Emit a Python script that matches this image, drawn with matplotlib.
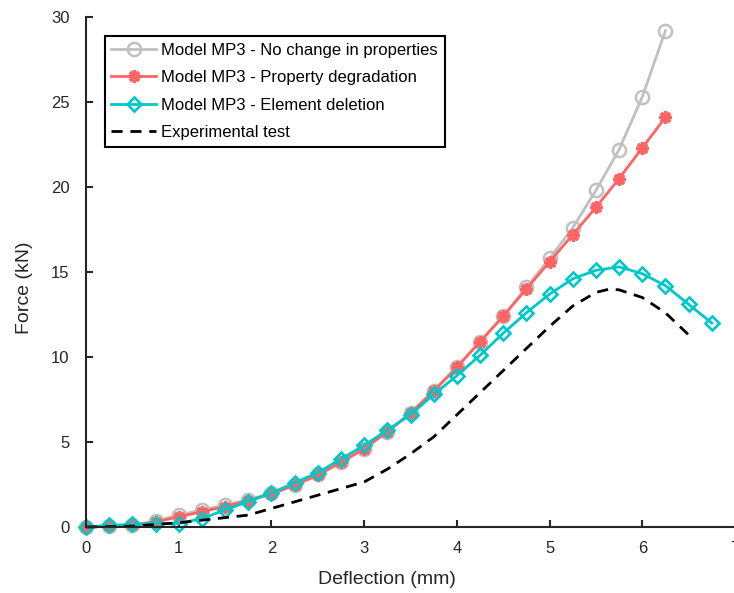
import matplotlib
matplotlib.use('Agg')
import matplotlib.pyplot as plt

plt.rcParams['font.family'] = ['Liberation Sans', 'DejaVu Sans']

# deflection (mm) / force (kN)
x_model = [0, 0.25, 0.5, 0.75, 1.0, 1.25, 1.5, 1.75, 2.0, 2.25, 2.5, 2.75, 3.0,
           3.25, 3.5, 3.75, 4.0, 4.25, 4.5, 4.75, 5.0, 5.25, 5.5, 5.75, 6.0, 6.25]
f_nochange = [0, 0.05, 0.1, 0.35, 0.7, 1.0, 1.3, 1.6, 2.0, 2.5, 3.1, 3.8, 4.6,
              5.6, 6.7, 8.0, 9.4, 10.9, 12.4, 14.1, 15.8, 17.6, 19.8, 22.2, 25.3, 29.2]
f_degrad = [0, 0.05, 0.1, 0.3, 0.6, 0.9, 1.2, 1.55, 1.95, 2.45, 3.05, 3.8, 4.6,
            5.6, 6.7, 8.0, 9.4, 10.9, 12.4, 14.0, 15.6, 17.2, 18.8, 20.5, 22.3, 24.1]

x_delete = [0, 0.25, 0.5, 0.75, 1.0, 1.25, 1.5, 1.75, 2.0, 2.25, 2.5, 2.75, 3.0, 3.25,
            3.5, 3.75, 4.0, 4.25, 4.5, 4.75, 5.0, 5.25, 5.5, 5.75, 6.0, 6.25, 6.5, 6.75]
f_delete = [0, 0.1, 0.15, 0.2, 0.2, 0.5, 1.0, 1.5, 2.0, 2.6, 3.2, 4.0, 4.8, 5.7,
            6.6, 7.8, 8.9, 10.1, 11.4, 12.6, 13.7, 14.6, 15.1, 15.3, 14.9, 14.2, 13.1, 12.0]

x_exp = [0, 0.5, 1.0, 1.75, 3.0, 3.25, 3.5, 3.75, 4.0, 4.25, 4.5, 4.75, 5.0,
         5.25, 5.5, 5.65, 5.75, 6.0, 6.25, 6.5]
f_exp = [0, 0.05, 0.25, 0.7, 2.65, 3.4, 4.3, 5.3, 6.6, 7.9, 9.2, 10.5, 11.8,
         13.0, 13.8, 14.0, 13.95, 13.5, 12.6, 11.3]

labels = ['Model MP3 - No change in properties',
          'Model MP3 - Property degradation',
          'Model MP3 - Element deletion',
          'Experimental test']

fig = plt.figure(figsize=(7.34, 5.93), dpi=100)
ax = fig.add_axes([86/734., 66/593., 649/734., 510/593.])

ax.plot(x_model, f_nochange, '-o', color='#c0c0c0', lw=2, ms=9.5, mfc='none',
        mew=1.8, label=labels[0], clip_on=False)
ax.plot(x_model, f_degrad, '-', marker=(8, 2, 0), color='#ff6464', lw=2, ms=9,
        mew=2.4, label=labels[1], clip_on=False)
ax.plot(x_delete, f_delete, '-D', color='#00c8c8', lw=2, ms=7.5, mfc='none',
        mew=1.9, label=labels[2], clip_on=False)
ax.plot(x_exp, f_exp, '--', color='black', lw=2, dashes=(4, 2.8), label=labels[3],
        clip_on=False)

ax.set_xlim(0, 7)
ax.set_ylim(0, 30)
ax.set_xticks([0, 1, 2, 3, 4, 5, 6, 7])
ax.set_yticks([0, 5, 10, 15, 20, 25, 30])

for s in ['top', 'right']:
    ax.spines[s].set_visible(False)
for s in ['left', 'bottom']:
    ax.spines[s].set_color('#262626')
    ax.spines[s].set_linewidth(1.5)
ax.tick_params(direction='in', length=5, width=1.5, color='#262626',
               labelsize=12, labelcolor='#262626')
ax.tick_params(axis='x', pad=10)
ax.tick_params(axis='y', pad=12)

ax.set_xlabel('Deflection (mm)', fontsize=14, color='#262626')
ax.xaxis.set_label_coords(0.463, -0.087)
ax.set_ylabel('Force (kN)', fontsize=14, color='#262626')
ax.yaxis.set_label_coords(-0.082, 0.469)

leg = ax.legend(loc='upper left', bbox_to_anchor=(0.029, 0.963), borderaxespad=0,
                fontsize=12, fancybox=False, edgecolor='black', framealpha=1,
                handlelength=2.7, handletextpad=0.3, labelspacing=0.75,
                borderpad=0.4)
leg.get_frame().set_linewidth(1.5)

fig.savefig('out.png', dpi=100)
